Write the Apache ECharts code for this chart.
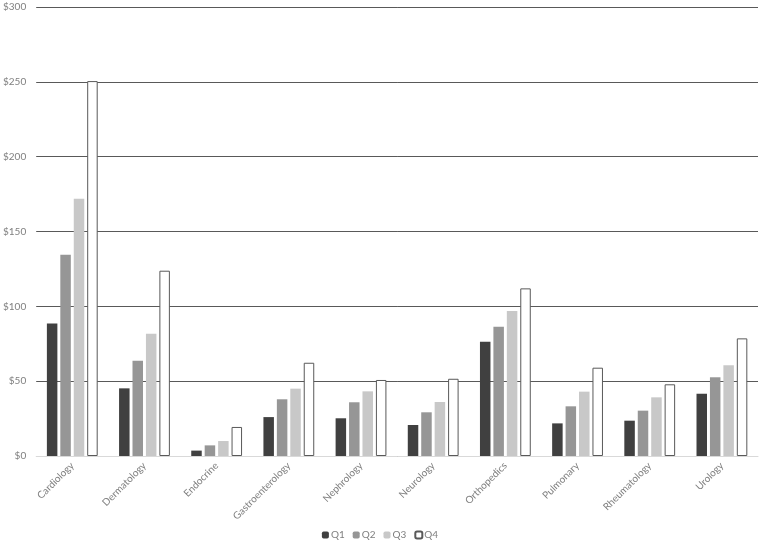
<!DOCTYPE html>
<html>
<head>
<meta charset="utf-8">
<script src="https://cdn.jsdelivr.net/npm/echarts@6/dist/echarts.min.js"></script>
<style>html,body{margin:0;padding:0;background:#fff}#c{width:760px;height:547px}</style>
</head>
<body>
<div id="c"></div>
<script>
var categories = ['Cardiology','Dermatology','Endocrine','Gastroenterology','Nephrology','Neurology','Orthopedics','Pulmonary','Rheumatology','Urology'];
var q1 = [88.6, 45.2, 3.6, 26.0, 25.2, 20.7, 76.4, 21.8, 23.6, 41.6];
var q2 = [134.5, 63.7, 7.1, 37.9, 35.9, 29.2, 86.4, 33.2, 30.3, 52.6];
var q3 = [171.9, 81.7, 10.0, 45.0, 43.2, 36.1, 96.9, 43.0, 39.2, 60.6];
var q4 = [250.5, 123.8, 19.4, 62.3, 50.8, 51.6, 112.0, 59.0, 47.9, 78.6];
var seriesNames = ['Q1','Q2','Q3','Q4'];
var yTicks = [0, 50, 100, 150, 200, 250, 300];

var chart = echarts.init(document.getElementById('c'));
var font = 'Lato, "Open Sans", sans-serif';
var fills = ['#404040','#969696','#c8c8c8','#ffffff'];
var data = [q1,q2,q3,q4];
chart.setOption({
  animation: false,
  textStyle: {fontFamily: font},
  legend: {
    bottom: 2, left: 'center',
    itemWidth: 7, itemHeight: 7, itemGap: 8,
    textStyle: {color: '#7f7f7f', fontSize: 10, fontFamily: font, padding: [0,0,0,-3]},
    data: seriesNames
  },
  grid: {left: 32, right: 2, top: 7, bottom: 91, containLabel: false},
  xAxis: {
    type: 'category',
    data: categories,
    axisLine: {lineStyle: {color: '#d9d9d9', width: 1}},
    axisTick: {show: false},
    axisLabel: {rotate: 45, color: '#7f7f7f', fontSize: 10, fontFamily: font, margin: 8, interval: 0}
  },
  yAxis: {
    type: 'value', min: 0, max: 300, interval: 50,
    axisLine: {show: false}, axisTick: {show: false},
    axisLabel: {color: '#7f7f7f', fontSize: 10, fontFamily: font, margin: 10,
      formatter: function(v){ return yTicks.indexOf(v) >= 0 ? '$' + v : ''; }},
    splitLine: {lineStyle: {color: '#595959', width: 1}}
  },
  series: seriesNames.map(function(n, i){
    return {
      name: n, type: 'bar', data: data[i],
      barWidth: 10.5, barGap: '28%', barCategoryGap: '29%',
      itemStyle: {color: fills[i], borderColor: i === 3 ? '#595959' : fills[i], borderWidth: i === 3 ? 1 : 0}
    };
  })
});
</script>
</body>
</html>
